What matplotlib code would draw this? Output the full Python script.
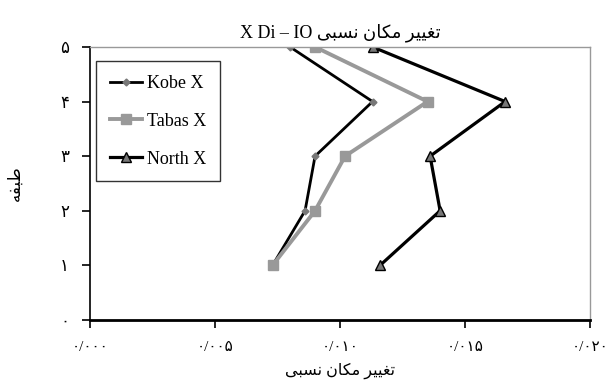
import matplotlib
matplotlib.use("Agg")
import matplotlib.pyplot as plt

# data
floors = [1, 2, 3, 4, 5]
kobe_x = [0.0073, 0.0086, 0.0090, 0.0113, 0.0080]
tabas_x = [0.0073, 0.0090, 0.0102, 0.0135, 0.0090]
north_x = [0.0116, 0.0140, 0.0136, 0.0166, 0.0113]
series_names = ["Kobe X", "Tabas X", "North X"]

x_ticks = [0.0, 0.005, 0.010, 0.015, 0.020]
x_tick_labels = ["۰/۰۰۰", "۰/۰۰۵", "۰/۰۱۰", "۰/۰۱۵", "۰/۰۲۰"]
y_ticks = [0, 1, 2, 3, 4, 5]
y_tick_labels = ["۰", "۱", "۲", "۳", "۴", "۵"]

# Persian text pre-shaped (presentation forms, visual order) since matplotlib has no shaping
drift_fa = "\uFBFD\uFE92\uFEB4\uFEE7 \uFEE5\uFE8E\uFB91\uFEE3 \uFEAE\uFBFF\uFBFF\uFED0\uFE97"
floor_fa = "\uFEEA\uFED4\uFE92\uFEC3"
title_txt = "X Di \u2013 IO " + drift_fa

fonts = ["Liberation Serif", "DejaVu Sans"]
plt.rcParams["font.family"] = fonts

fig = plt.figure(figsize=(6.1, 3.85), dpi=100)
ax = fig.add_axes([0.1475, 0.169, 0.82, 0.709])

ax.plot(kobe_x, floors, color="black", lw=2.0, marker="D", ms=3.5,
        mfc="#777777", mec="#777777", label=series_names[0])
ax.plot(tabas_x, floors, color="#999999", lw=2.8, marker="s", ms=7,
        mfc="#999999", mec="#999999", label=series_names[1])
ax.plot(north_x, floors, color="black", lw=2.3, marker="^", ms=7,
        mfc="#777777", mec="black", mew=1.0, label=series_names[2])

ax.set_xlim(0, 0.02)
ax.set_ylim(0, 5)
ax.set_xticks(x_ticks)
ax.set_xticklabels(x_tick_labels, fontsize=11)
ax.set_yticks(y_ticks)
ax.set_yticklabels(y_tick_labels, fontsize=12)
ax.tick_params(axis="both", direction="out", length=6, width=1.2, color="black", pad=9)

for side in ["top", "right"]:
    ax.spines[side].set_color("#999999")
    ax.spines[side].set_linewidth(1.0)
ax.spines["left"].set_color("black")
ax.spines["left"].set_linewidth(1.2)
ax.spines["bottom"].set_color("black")
ax.spines["bottom"].set_linewidth(2.0)

ax.set_title(title_txt, fontsize=13, pad=7)
ax.set_xlabel(drift_fa, fontsize=11.5, labelpad=6)
ax.set_ylabel(floor_fa, fontsize=12, labelpad=26)

leg = ax.legend(loc="upper left", bbox_to_anchor=(0.012, 0.947), fontsize=13,
                frameon=True, fancybox=False, edgecolor="black",
                handlelength=1.8, handletextpad=0.3, labelspacing=1.15,
                borderpad=0.75, borderaxespad=0.0)
leg.get_frame().set_linewidth(1.0)

fig.savefig("out.png", dpi=100)
